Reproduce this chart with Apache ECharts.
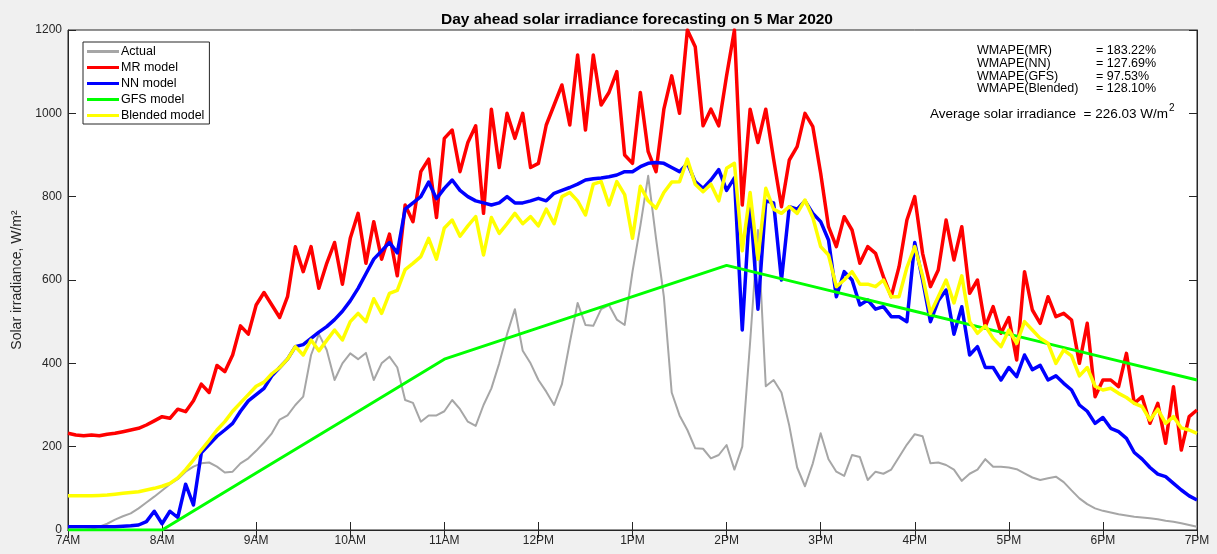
<!DOCTYPE html>
<html>
<head>
<meta charset="utf-8">
<script src="https://cdn.jsdelivr.net/npm/echarts@6/dist/echarts.min.js"></script>
<style>
html, body { margin: 0; padding: 0; background: #f0f0f0; }
#chart { width: 1217px; height: 554px; }
</style>
</head>
<body>
<div id="chart"></div>
<script>
// x axis: hours of the day, 7AM .. 7PM
const hourLabels = ["7AM", "8AM", "9AM", "10AM", "11AM", "12PM", "1PM", "2PM", "3PM", "4PM", "5PM", "6PM", "7PM"];
// 5-minute time grid (hours), 7:00 .. 19:00
const times = [];
for (let i = 0; i <= 144; i++) times.push(7 + i / 12);

// Actual measured irradiance (W/m2), one value per 5 minutes
const actual = [
  0, 0, 0, 2, 8, 15, 25, 33, 40, 52, 66, 80,
  95, 110, 122, 140, 152, 160, 162, 152, 138, 140, 160, 172,
  190, 210, 232, 265, 275, 300, 320, 420, 470, 432, 360, 400,
  424, 410, 425, 360, 400, 416, 390, 312, 305, 260, 275, 275,
  285, 312, 290, 260, 250, 300, 340, 400, 470, 530, 430, 400,
  360, 332, 300, 350, 450, 545, 492, 490, 530, 540, 505, 492,
  620, 730, 850, 700, 560, 330, 275, 240, 196, 195, 172, 180,
  204, 145, 200, 450, 720, 345, 360, 330, 250, 150, 105, 160,
  232, 170, 140, 130, 180, 175, 120, 140, 135, 145, 175, 205,
  230, 225, 160, 162, 156, 145, 118, 135, 145, 170, 152, 152,
  150, 146, 136, 126, 120, 124, 128, 115, 95, 76, 62, 52,
  46, 42, 38, 35, 32, 30, 28, 26, 22, 20, 16, 12,
  8
];
const mrModel = [
  232, 228, 226, 228, 226, 230, 232, 236, 240, 244, 252, 262,
  272, 268, 290, 284, 310, 350, 330, 395, 380, 420, 490, 470,
  540, 570, 540, 510, 560, 680, 620, 680, 580, 640, 690, 590,
  700, 760, 640, 740, 650, 710, 610, 780, 740, 860, 890, 750,
  940, 960, 860, 930, 970, 760, 1010, 870, 1000, 940, 1000, 870,
  880, 972, 1020, 1068, 972, 1140, 960, 1140, 1020, 1050, 1100, 900,
  880, 1050, 908, 860, 1010, 1090, 1000, 1200, 1160, 970, 1010, 970,
  1090, 1200, 780, 1010, 930, 1010, 890, 776, 888, 920, 1000, 968,
  856, 728, 680, 752, 720, 640, 680, 664, 608, 560, 632, 744,
  800, 664, 584, 624, 744, 648, 728, 568, 600, 488, 536, 472,
  510, 408, 620, 528, 496, 560, 512, 520, 504, 400, 496, 320,
  360, 360, 344, 424, 304, 320, 256, 304, 208, 344, 192, 272,
  288
];
const nnModel = [
  8, 8, 8, 8, 8, 8, 8, 9, 10, 12, 20, 45,
  15, 45, 30, 110, 60, 185, 205, 225, 240, 256, 285, 310,
  325, 340, 370, 390, 410, 440, 445, 460, 475, 488, 505, 525,
  550, 580, 615, 650, 670, 690, 665, 770, 785, 800, 835, 795,
  820, 840, 815, 800, 790, 785, 780, 785, 800, 785, 785, 790,
  796, 790, 808, 815, 822, 830, 840, 843, 845, 848, 852, 860,
  860, 872, 880, 882, 880, 870, 860, 880, 836, 820, 840, 865,
  815, 845, 480, 790, 530, 790, 785, 600, 776, 770, 790, 760,
  740, 696, 560, 620, 600, 540, 552, 530, 536, 512, 512, 500,
  690, 600, 500, 550, 576, 470, 536, 420, 440, 390, 390, 360,
  390, 368, 420, 385, 395, 360, 370, 352, 336, 300, 285, 256,
  270, 244, 236, 220, 186, 170, 150, 134, 128, 112, 96, 82,
  72
];
// GFS model is given hourly
const gfsHours = [7, 8, 9, 10, 11, 12, 13, 14, 15, 16, 17, 18, 19];
const gfsModel = [0, 0, 137, 273, 410, 485, 560, 635, 580, 525, 470, 415, 360];
const blendedModel = [
  82, 82, 82, 82, 83, 84, 86, 88, 90, 92, 96, 100,
  105, 112, 125, 145, 168, 192, 215, 240, 260, 285, 305, 325,
  345, 355, 375, 390, 410, 440, 420, 456, 430, 455, 480, 456,
  500, 520, 500, 555, 520, 568, 575, 625, 640, 656, 700, 650,
  725, 744, 705, 730, 752, 660, 750, 712, 735, 760, 735, 752,
  730, 770, 735, 800, 810, 790, 756, 830, 836, 780, 836, 805,
  700, 825, 790, 772, 810, 835, 836, 890, 830, 812, 830, 790,
  868, 880, 670, 810, 650, 820, 770, 760, 776, 760, 792, 750,
  680, 660, 584, 600, 620, 590, 590, 584, 600, 560, 560, 630,
  680, 610, 520, 560, 600, 545, 610, 500, 472, 490, 460, 440,
  480, 448, 500, 480, 460, 448, 400, 432, 418, 370, 390, 345,
  336, 340, 328, 318, 304, 296, 264, 290, 256, 272, 245, 240,
  232
];

const wmapeNames = ["WMAPE(MR)", "WMAPE(NN)", "WMAPE(GFS)", "WMAPE(Blended)"];
const wmapeValues = ["= 183.22%", "= 127.69%", "= 97.53%", "= 128.10%"];
const avgIrradiance = "226.03";

function pairs(xs, ys) {
  return ys.map((v, i) => [xs[i], v]);
}

const FONT = "Liberation Sans";
const AXIS_COLOR = "#262626";

let myChart = echarts.init(document.getElementById("chart"));

function lineSeries(name, data, color, width) {
  return {
    name: name,
    type: "line",
    data: data,
    showSymbol: false,
    symbol: "none",
    lineStyle: { color: color, width: width, join: "round" },
    itemStyle: { color: color },
    emphasis: { disabled: true }
  };
}

myChart.setOption({
  animation: false,
  backgroundColor: "#f0f0f0",
  title: {
    text: "Day ahead solar irradiance forecasting on 5 Mar 2020",
    left: 632,
    textAlign: "center",
    top: 7,
    textStyle: { fontFamily: FONT, fontSize: 15.5, fontWeight: "bold", color: "#000" }
  },
  legend: {
    orient: "vertical",
    left: 83,
    top: 42,
    backgroundColor: "#fff",
    borderColor: AXIS_COLOR,
    borderWidth: 1,
    borderRadius: 0,
    padding: [3, 5, 2, 4],
    itemGap: 3,
    itemWidth: 32,
    itemHeight: 3,
    icon: "rect",
    textStyle: { fontFamily: FONT, fontSize: 12.5, color: "#000", padding: [0, 0, 0, -3], lineHeight: 12.5 },
    data: ["Actual", "MR model", "NN model", "GFS model", "Blended model"]
  },
  grid: {
    left: 68,
    right: 20,
    top: 30,
    bottom: 24,
    show: true,
    backgroundColor: "#fff",
    borderColor: AXIS_COLOR,
    borderWidth: 1,
    outerBoundsMode: "none"
  },
  xAxis: [
    {
      type: "value",
      min: 7,
      max: 19,
      interval: 1,
      axisLine: { lineStyle: { color: AXIS_COLOR, width: 1 } },
      axisTick: { inside: true, length: 8, lineStyle: { color: AXIS_COLOR } },
      splitLine: { show: false },
      axisLabel: {
        fontFamily: FONT,
        fontSize: 12,
        color: AXIS_COLOR,
        margin: 5,
        formatter: v => hourLabels[Math.round(v - 7)]
      }
    },
    {
      type: "value",
      position: "top",
      min: 7,
      max: 19,
      interval: 1,
      axisLine: { lineStyle: { color: AXIS_COLOR, width: 1 } },
      axisTick: { inside: true, length: 8, lineStyle: { color: AXIS_COLOR } },
      splitLine: { show: false },
      axisLabel: { show: false }
    }
  ],
  yAxis: [
    {
      type: "value",
      min: 0,
      max: 1200,
      interval: 200,
      name: "Solar irradiance, W/m²",
      nameLocation: "middle",
      nameGap: 38,
      nameTextStyle: { fontFamily: FONT, fontSize: 14, color: AXIS_COLOR },
      axisLine: { show: true, lineStyle: { color: AXIS_COLOR, width: 1 } },
      axisTick: { show: true, inside: true, length: 8, lineStyle: { color: AXIS_COLOR } },
      splitLine: { show: false },
      axisLabel: { fontFamily: FONT, fontSize: 12, color: AXIS_COLOR, margin: 6, formatter: v => String(v) }
    },
    {
      type: "value",
      position: "right",
      min: 0,
      max: 1200,
      interval: 200,
      axisLine: { show: true, lineStyle: { color: AXIS_COLOR, width: 1 } },
      axisTick: { show: true, inside: true, length: 8, lineStyle: { color: AXIS_COLOR } },
      splitLine: { show: false },
      axisLabel: { show: false }
    }
  ],
  graphic: [
    {
      type: "text",
      left: 977,
      top: 44,
      style: { text: wmapeNames.join("\n"), font: "12.5px " + FONT, lineHeight: 12.8, fill: "#000" }
    },
    {
      type: "text",
      left: 1096,
      top: 44,
      style: { text: wmapeValues.join("\n"), font: "12.5px " + FONT, lineHeight: 12.8, fill: "#000" }
    },
    {
      type: "text",
      left: 930,
      top: 103,
      style: {
        text: "{a|Average solar irradiance  = " + avgIrradiance + " W/m}{s|2}",
        rich: {
          a: { font: "13.5px " + FONT, fill: "#000", verticalAlign: "bottom", lineHeight: 18 },
          s: { font: "10px " + FONT, fill: "#000", verticalAlign: "top", lineHeight: 18, padding: [0, 0, 7, 1] }
        }
      }
    }
  ],
  series: [
    lineSeries("Actual", pairs(times, actual), "#a6a6a6", 2),
    lineSeries("MR model", pairs(times, mrModel), "#ff0000", 3.5),
    lineSeries("NN model", pairs(times, nnModel), "#0000ff", 3.5),
    lineSeries("GFS model", pairs(gfsHours, gfsModel), "#00ff00", 3),
    lineSeries("Blended model", pairs(times, blendedModel), "#ffff00", 3.5)
  ]
});
</script>
</body>
</html>
